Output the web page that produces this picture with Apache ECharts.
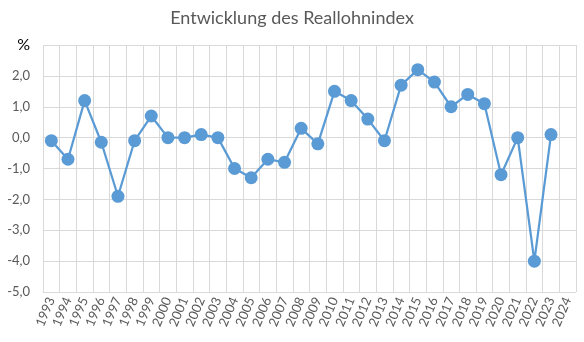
<!DOCTYPE html>
<html><head><meta charset="utf-8">
<script src="https://cdn.jsdelivr.net/npm/echarts@6/dist/echarts.min.js"></script>
<style>html,body{margin:0;padding:0;background:#fff}#c{width:584px;height:342px}</style>
</head><body><div id="c"></div>
<script>
const title = 'Entwicklung des Reallohnindex';
const years = ['1993','1994','1995','1996','1997','1998','1999','2000','2001','2002','2003','2004','2005','2006','2007','2008','2009','2010','2011','2012','2013','2014','2015','2016','2017','2018','2019','2020','2021','2022','2023','2024'];
const values = [-0.1,-0.7,1.2,-0.15,-1.9,-0.1,0.7,0.0,0.0,0.1,0.0,-1.0,-1.3,-0.7,-0.8,0.3,-0.2,1.5,1.2,0.6,-0.1,1.7,2.2,1.8,1.0,1.4,1.1,-1.2,0.0,-4.0,0.1,null];
const yMin = -5, yMax = 3, yStep = 1;
const unitLabel = '%';

const chart = echarts.init(document.getElementById('c'));
const font = 'Lato, "Open Sans", sans-serif';
chart.setOption({
  animation: false,
  title: { text: title, left: 'center', top: 4,
    textStyle: { fontFamily: font, fontSize: 18, fontWeight: 'normal', color: '#595959' } },
  grid: { left: 43, right: 8, top: 45, bottom: 50 },
  xAxis: {
    type: 'category', data: years, boundaryGap: true,
    axisLine: { show: true, lineStyle: { color: '#d9d9d9', width: 1 } },
    axisTick: { show: false },
    splitLine: { show: true, lineStyle: { color: '#d9d9d9', width: 1 } },
    axisLabel: { interval: 0, rotate: 67, margin: 6, fontFamily: font, fontSize: 13, color: '#595959' }
  },
  yAxis: {
    type: 'value', min: yMin, max: yMax, interval: yStep,
    axisLine: { show: false }, axisTick: { show: false },
    splitLine: { lineStyle: { color: '#d9d9d9', width: 1 } },
    axisLabel: { margin: 13, fontFamily: font, fontSize: 13, color: '#595959',
      formatter: v => v === yMax ? '{u|' + unitLabel + '}' : v.toFixed(1).replace('.', ','),
      rich: { u: { fontFamily: font, fontSize: 16, color: '#000' } } }
  },
  series: [{
    type: 'line', data: values, connectNulls: false,
    symbol: 'circle', symbolSize: 13,
    lineStyle: { color: '#5b9bd5', width: 2.25 },
    itemStyle: { color: '#5b9bd5' }
  }]
});
</script></body></html>
